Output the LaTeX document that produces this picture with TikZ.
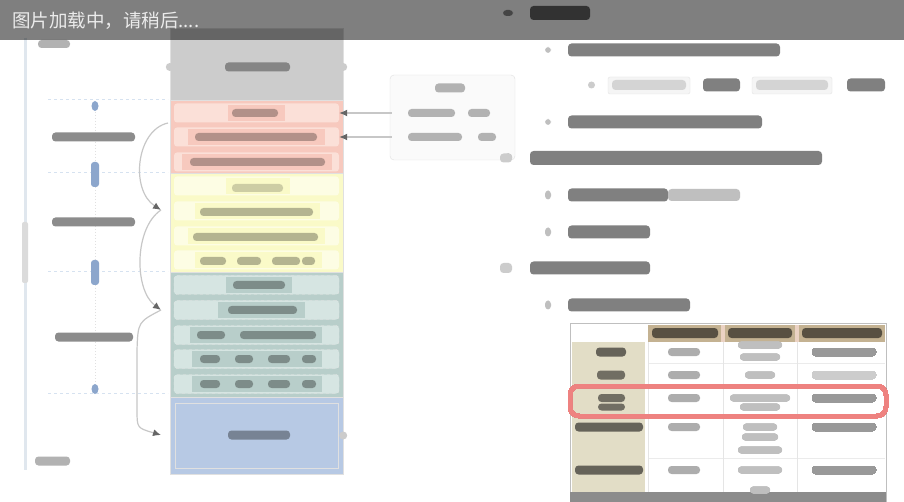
\documentclass[tikz,border=0pt]{standalone}
\usepackage{fontspec}
\newfontfamily\cjk{Noto Sans CJK SC}
\usetikzlibrary{arrows.meta}
\definecolor{blkGray}{RGB}{204,204,204}
\definecolor{blkPink}{RGB}{247,201,190}
\definecolor{rowPink}{RGB}{251,224,216}
\definecolor{blkYellow}{RGB}{250,250,200}
\definecolor{rowYellow}{RGB}{253,253,228}
\definecolor{blkTeal}{RGB}{184,206,202}
\definecolor{rowTeal}{RGB}{214,229,226}
\definecolor{blkBlue}{RGB}{183,201,228}
\definecolor{markBlue}{RGB}{140,166,204}
\definecolor{dashBlue}{RGB}{214,226,240}
\definecolor{axisGray}{RGB}{224,231,238}
\definecolor{headTan}{RGB}{196,178,146}
\definecolor{colBeige}{RGB}{226,221,198}
\definecolor{hlRed}{RGB}{238,130,128}
\tikzset{
  blk/.style={draw=black!12, minimum width=173pt, inner sep=0pt},
  rowbox/.style={rounded corners=3pt, minimum width=165pt, minimum height=19pt, inner sep=0pt},
  smear/.style={fill=black!30, rounded corners=3.5pt},
  conn/.style={draw=black!22, line width=1.2pt},
  guide/.style={draw=dashBlue, dashed, line width=1pt}
}
\def\smudge[#1](#2,#3)(#4:#5){\fill[smear,#1] ({#2},{#3-#5/2}) rectangle ({#2+#4},{#3+#5/2});}

\begin{document}
\begin{tikzpicture}[x=1pt,y=-1pt]
		\useasboundingbox (0,0) rectangle (904,502);
		\fill[white] (0,0) rectangle (904,502);
		%%%%% COLUMN %%%%%
		
		\node[blk, fill=blkGray, minimum height=72pt] (gry) at (256.5,64) {};
		\node[blk, fill=blkPink, minimum height=73pt] (pnk) at (256.5,136.5) {};
		\node[blk, fill=blkYellow, minimum height=99pt] (ylw) at (256.5,222.5) {};
		\node[blk, fill=blkTeal, minimum height=125pt] (tel) at (256.5,334.5) {};
		\node[blk, fill=blkBlue, minimum height=77pt] (blu) at (256.5,435.5) {};
		
		\foreach \y [count=\i] in {113,137,162}
			\node[rowbox, fill=rowPink] (pk\i) at (256.5,\y) {};
		\foreach \y [count=\i] in {186,211,236,260}
			\node[rowbox, fill=rowYellow] (yl\i) at (256.5,\y) {};
		\foreach \y [count=\i] in {285,310,335,359,384}
			\node[rowbox, fill=rowTeal, draw=black!10, dashed] (tl\i) at (256.5,\y) {};
		\draw[black!12] (175,403) rectangle (338,468);
		
		% centre patches behind the text
		\fill[blkPink] (228,105) rectangle (285,121);
		\fill[blkPink] (188,129) rectangle (325,145);
		\fill[blkPink] (182,154) rectangle (332,170);
		\fill[blkYellow] (226,178) rectangle (290,194);
		\fill[blkYellow] (195,203) rectangle (320,219);
		\fill[blkYellow] (188,228) rectangle (325,244);
		\fill[blkYellow] (195,252) rectangle (322,268);
		\fill[blkTeal] (226,277) rectangle (292,293);
		\fill[blkTeal] (218,302) rectangle (305,318);
		\fill[blkTeal] (190,327) rectangle (322,343);
		\fill[blkTeal] (192,351) rectangle (322,367);
		\fill[blkTeal] (192,376) rectangle (322,392);
		
		\smudge[fill=blkGray!65!black](225,67)(65:9)
		\smudge[fill=blkPink!72!black](232,113)(46:8)
		\smudge[fill=blkPink!72!black](195,137)(122:8)
		\smudge[fill=blkPink!72!black](190,162)(135:8)
		\smudge[fill=blkYellow!82!black](232,188)(51:8)
		\smudge[fill=blkYellow!72!black](200,212)(113:8)
		\smudge[fill=blkYellow!72!black](193,237)(125:8)
		\smudge[fill=blkYellow!72!black](200,261)(26:8)
		\smudge[fill=blkYellow!72!black](237,261)(24:8)
		\smudge[fill=blkYellow!72!black](272,261)(28:8)
		\smudge[fill=blkYellow!72!black](302,261)(13:8)
		\smudge[fill=blkTeal!68!black](233,285)(52:8)
		\smudge[fill=blkTeal!68!black](228,310)(69:8)
		\smudge[fill=blkTeal!68!black](197,335)(28:8)
		\smudge[fill=blkTeal!68!black](240,335)(76:8)
		\foreach \y in {359,384} {
			\smudge[fill=blkTeal!68!black](200,\y)(20:8)
			\smudge[fill=blkTeal!68!black](235,\y)(18:8)
			\smudge[fill=blkTeal!68!black](268,\y)(22:8)
			\smudge[fill=blkTeal!68!black](302,\y)(14:8)
		}
		\smudge[fill=blkBlue!65!black](228,435)(62:9)
		
		\fill[black!20] (gry.west) ++(0,3) circle (4);
		\fill[black!20] (gry.east) ++(0,3) circle (4);
		\fill[black!20] (blu.east) circle (4);
		
		%%%%% LEFT SIDE %%%%%
		
		\draw[line width=3pt, draw=axisGray] (25,38) -- (25,470);
		\fill[black!14, rounded corners=2pt] (22,222) rectangle (28,283);
		\foreach \y in {100,173,272,393}
			\draw[guide] (48,\y) -- (168,\y);
		\draw[black!12, dotted, line width=1pt] (95,112) -- (95,162);
		\draw[black!12, dotted, line width=1pt] (95,187) -- (95,260);
		\draw[black!12, dotted, line width=1pt] (95,285) -- (95,384);
		\fill[markBlue] (95,106) ellipse (3.5 and 5);
		\fill[markBlue, rounded corners=3pt] (91,162) rectangle (99,187);
		\fill[markBlue, rounded corners=3pt] (91,260) rectangle (99,285);
		\fill[markBlue] (95,389) ellipse (3.5 and 5);
		
		\smudge[fill=black!45](52,137)(83:9)
		\smudge[fill=black!45](52,222)(83:9)
		\smudge[fill=black!45](55,337)(78:9)
		\smudge[fill=black!30](35,461)(35:9)
		\smudge[fill=black!30](38,44)(32:8)
		
		\coordinate (tA) at (161,210);
		\coordinate (tB) at (161,310);
		\coordinate (tC) at (161,435);
		\draw[conn, -{Latex[color=black!60,length=8pt,width=7pt]}] (168,123) .. controls (136,130) and (130,190) .. (tA);
		\draw[conn, -{Latex[color=black!60,length=8pt,width=7pt]}] (tA) .. controls (134,228) and (134,290) .. (tB);
		\draw[conn, -{Latex[color=black!60,length=8pt,width=7pt]}] (tB) .. controls (138,322) .. (137,350) -- (137,410) .. controls (137,428) .. (tC);
		
		%%%%% SIDE BOX %%%%%
		
		\node[draw=black!12, fill=black!2, rounded corners=4pt, minimum width=125pt, minimum height=85pt, inner sep=0pt] (side) at (452.5,117.5) {};
		\coordinate (sb1) at (392,113);
		\coordinate (sb2) at (392,137);
		\draw[conn, {Latex[color=black!60,length=8pt,width=7pt]}-] (pk1.east) -- (sb1);
		\draw[conn, {Latex[color=black!60,length=8pt,width=7pt]}-] (pk2.east) -- (sb2);
		\smudge[](435,88)(30:9)
		\smudge[](408,113)(47:8)
		\smudge[](468,113)(22:8)
		\smudge[](408,137)(54:8)
		\smudge[](478,137)(18:8)
		\fill[black!25] (side.south east) ++(-7,-3) circle (4);
		
		%%%%% OUTLINE TEXT %%%%%
		
		\smudge[fill=black!45](503,13)(10:6)
		\smudge[fill=black!60](530,13)(60:14)
		\smudge[fill=black!25](545,50)(6:6)
		\smudge[fill=black!50](568,50)(212:13)
		\smudge[fill=black!20](588,85)(7:7)
		\draw[black!10, fill=black!4, rounded corners=2pt] (608,77) rectangle (690,94);
		\smudge[fill=black!17](612,85)(74:10)
		\smudge[fill=black!50](703,85)(37:13)
		\draw[black!10, fill=black!4, rounded corners=2pt] (752,77) rectangle (832,94);
		\smudge[fill=black!17](756,85)(72:10)
		\smudge[fill=black!50](847,85)(38:13)
		\smudge[fill=black!25](545,122)(6:6)
		\smudge[fill=black!50](568,122)(194:13)
		\smudge[fill=black!20](500,158)(12:9)
		\smudge[fill=black!50](530,158)(292:14)
		\smudge[fill=black!25](545,195)(6:9)
		\smudge[fill=black!50](568,195)(100:13)
		\smudge[fill=black!25](668,195)(72:12)
		\smudge[fill=black!25](545,232)(6:9)
		\smudge[fill=black!50](568,232)(82:13)
		\smudge[fill=black!20](500,268)(12:10)
		\smudge[fill=black!50](530,268)(120:13)
		\smudge[fill=black!25](545,305)(6:9)
		\smudge[fill=black!50](568,305)(122:13)
		
		%%%%% TABLE %%%%%
		
		\node[draw=black!25, fill=white, minimum width=316pt, minimum height=180pt, inner sep=0pt] (tab) at (728,413) {};
		\fill[headTan] (648,325) rectangle (885,342);
		\fill[rowPink!70!headTan] (721,325) rectangle (725,342);
		\fill[rowPink!70!headTan] (795,325) rectangle (799,342);
		\fill[colBeige] (572,342) rectangle (645,492);
		\fill[black!45] (570,492) rectangle (886,502);
		\foreach \y in {363,388,416,458}
			\draw[black!8] (648,\y) -- (885,\y);
		\foreach \x in {648,723,797}
			\draw[black!10] (\x,342) -- (\x,492);
		\smudge[fill=headTan!45!black](652,333)(66:10)
		\smudge[fill=headTan!45!black](728,333)(64:10)
		\smudge[fill=headTan!45!black](802,333)(80:10)
		\smudge[fill=colBeige!45!black](596,352)(30:9)
		\smudge[fill=colBeige!50!black](597,375)(28:9)
		\smudge[fill=colBeige!50!black](598,398)(27:8)
		\smudge[fill=colBeige!50!black](598,407)(27:7)
		\smudge[fill=colBeige!45!black](575,427)(68:9)
		\smudge[fill=colBeige!45!black](575,470)(68:9)
		\foreach \y in {352,375,398,427,470}
			\smudge[fill=black!32](668,\y)(32:8)
		\foreach \y/\w in {345/44,357/40,375/30,398/60,407/40,427/34,437/36,450/44,470/44,490/20}
			\smudge[fill=black!25]({760-\w/2},\y)(\w:7)
		\foreach \y in {352,398,427,470}
			\smudge[fill=black!40](812,\y)(64:8)
		\smudge[fill=black!20](812,375)(64:8)
		\draw[hlRed, line width=4pt, rounded corners=9pt] (570,386) rectangle (886,416);
		
		%%%%% LOADING BAR %%%%%
		
		\fill[black, opacity=0.5] (0,0) rectangle (904,40);
		\node[anchor=west, inner sep=0pt, text=black!8, font=\cjk\fontsize{18.5}{19}\selectfont] (load) at (12,21) {图片加载中，请稍后....};
		
		%%%%% END %%%%%
	\end{tikzpicture}
\end{document}
